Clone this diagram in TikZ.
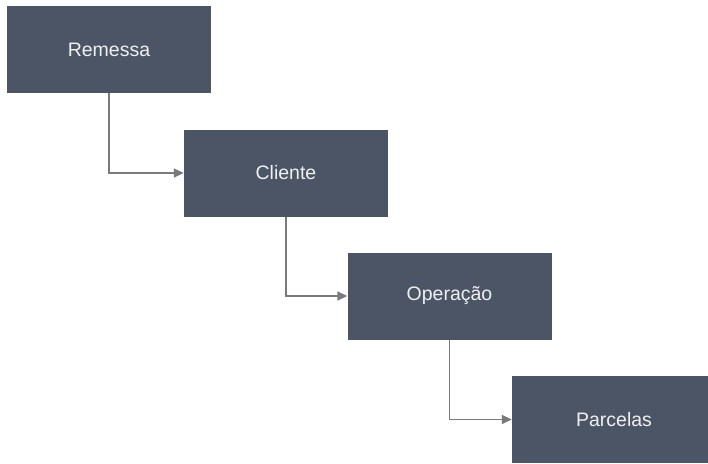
\documentclass[tikz,border=0pt]{standalone}
\usepackage{fontspec}
\setmainfont{Liberation Sans}
\usetikzlibrary{arrows.meta}
\definecolor{boxfill}{HTML}{4B5565}
\definecolor{linkgray}{HTML}{7A7A7A}
\tikzset{
	entity/.style={fill=boxfill, text=white!94!black, minimum width=204pt, minimum height=87pt,
		inner sep=0pt, font=\fontsize{19.5}{23}\selectfont},
	link/.style={draw=linkgray, line width=1.6pt, -{Triangle[length=10pt,width=9pt]}}
}

\begin{document}
\begin{tikzpicture}[x=1pt, y=-1pt]
			%%%%% START %%%%%
			
			\useasboundingbox (0, 0) rectangle (708, 463);
			
			\node[entity] (remessa) at (109, 49.5) {Remessa};
			\node[entity] (cliente) at (286, 173) {Cliente};
			\node[entity] (operacao) at (449.5, 296) {Operação};
			\node[entity] (parcelas) at (614, 419.5) {Parcelas};
			
			\draw[link] (remessa.south) |- (cliente.west);
			\draw[link] (cliente.south) |- (operacao.west);
			\draw[link] (operacao.south) |- (parcelas.west);
			
			%%%%% END %%%%%
\end{tikzpicture}
\end{document}
